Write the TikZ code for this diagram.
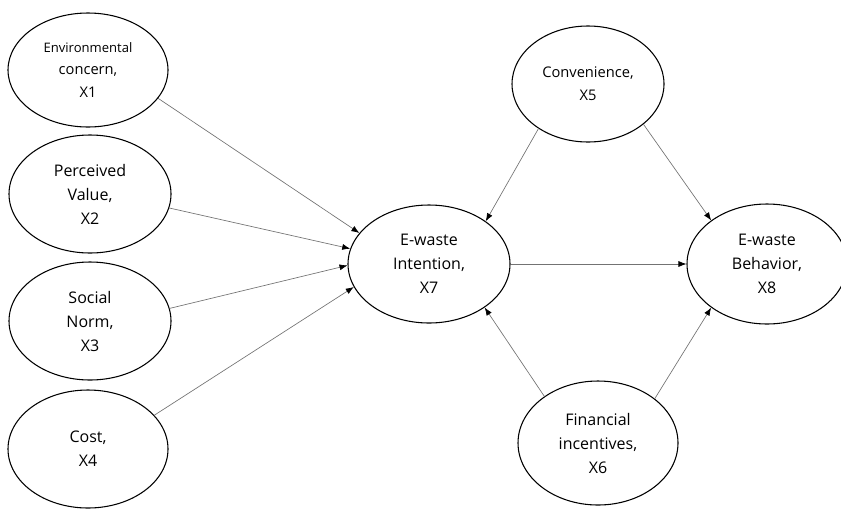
\documentclass[tikz,border=0pt]{standalone}
\usepackage{fontspec}
\setmainfont{Open Sans}
\usetikzlibrary{shapes.geometric,arrows.meta}
\begin{document}
\begin{tikzpicture}[x=0.75pt,y=-0.75pt,
  var/.style={ellipse,draw=black,line width=0.8pt,inner sep=0pt,align=center,
    minimum width=121.5pt,minimum height=88.5pt,font=\fontsize{12}{18}\selectfont},
  link/.style={draw=black!55,line width=0.5pt,-{Latex[length=6pt,width=4.5pt,color=black]}}]
\useasboundingbox (0,0) rectangle (841,511);
\clip (0,0) rectangle (841,511);
\node[var,minimum width=120pt,minimum height=85.5pt,font=\fontsize{11}{17}\selectfont] (x1) at (88,70)
  {{\fontsize{9.8}{17}\selectfont Environmental}\\concern,\\X1};
\node[var] (x2) at (90,194) {Perceived\\Value,\\X2};
\node[var] (x3) at (90,321) {Social\\Norm,\\X3};
\node[var,minimum width=120pt] (x4) at (88,449) {Cost,\\X4};
\node[var] (x7) at (429,264) {E-waste\\Intention,\\X7};
\node[var,minimum width=120pt,minimum height=90pt] (x8) at (767,264) {E-waste\\Behavior,\\X8};
\node[var,minimum width=114pt,minimum height=87pt,font=\fontsize{11}{17.5}\selectfont] (x5) at (588,84) {Convenience,\\X5};
\node[var,minimum width=120pt,minimum height=93pt] (x6) at (598,443) {Financial\\incentives,\\X6};
\draw[link] (x1.-22.6) -- (x7.156);
\draw[link] (x2.-10.4) -- (x7.169.5);
\draw[link] (x3.9) -- (x7.181.4);
\draw[link] (x4.27.6) -- (x7.197.3);
\draw[link] (x5.222) -- (x7.37.8);
\draw[link] (x5.-36) -- (x8.142);
\draw[link] (x7.0) -- (x8.180);
\draw[link] (x6.139.5) -- (x7.-38);
\draw[link] (x6.38) -- (x8.-142);
\end{tikzpicture}
\end{document}
